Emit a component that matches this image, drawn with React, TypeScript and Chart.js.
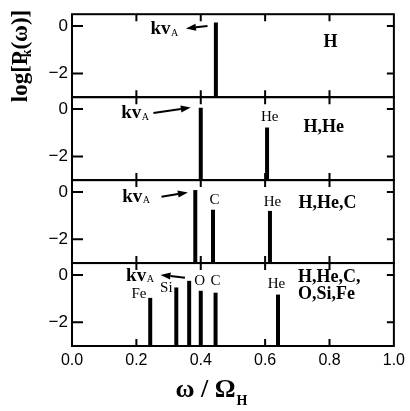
import { useEffect, useRef } from 'react';
import { Chart, registerables } from 'chart.js';

Chart.register(...registerables);

// ---- data ----
const xTicks = [0, 0.2, 0.4, 0.6, 0.8, 1.0];
const yTicks = [0, -2];
const yMin = -3;
const yMax = 0.5;

const panel1Freq = [0.447];
const panel1Power = [0.15];
const panel2Freq = [0.4, 0.606];
const panel2Power = [0.05, -0.78];
const panel3Freq = [0.383, 0.438, 0.615];
const panel3Power = [0.08, -0.75, -0.8];
const panel4Freq = [0.243, 0.324, 0.364, 0.4, 0.446, 0.64];
const panel4Power = [-0.97, -0.53, -0.25, -0.67, -0.75, -0.83];

const panelFreqs = [panel1Freq, panel2Freq, panel3Freq, panel4Freq];
const panelPowers = [panel1Power, panel2Power, panel3Power, panel4Power];
const panelIds = ['y1', 'y2', 'y3', 'y4'];

// panel composition labels: [x, y, lines, align]
const compLabels: [number, number, string[], string][] = [
  [0.803, -0.67, ['H'], 'center'],
  [0.782, -0.79, ['H,He'], 'center'],
  [0.794, -0.5, ['H,He,C'], 'center'],
  [0.702, -0.1, ['H,He,C,', 'O,Si,Fe'], 'left'],
];

// ion line labels per panel: name, x, y
const ionNames = [[], ['He'], ['C', 'He'], ['Fe', 'Si', 'O', 'C', 'He']];
const ionX = [[], [0.614], [0.443, 0.623], [0.208, 0.293, 0.397, 0.446, 0.635]];
const ionY = [[], [-0.33], [-0.33, -0.42], [-0.8, -0.54, -0.25, -0.25, -0.375]];

// kvA annotation per panel: text x, text y, arrow tail (x,y), arrow head (x,y)
const kvTextX = [0.244, 0.153, 0.156, 0.168];
const kvTextY = [-0.125, -0.17, -0.2, -0.04];
const arrowTail: [number, number][] = [[0.421, 0.0], [0.253, -0.17], [0.278, -0.2], [0.351, -0.12]];
const arrowHead: [number, number][] = [[0.354, -0.1], [0.369, 0.06], [0.36, -0.02], [0.275, 0.0]];

const SERIF = '"Liberation Serif", "Times New Roman", serif';
const SANS = '"Liberation Sans", Arial, sans-serif';

const overlay = {
  id: 'overlay',
  afterDraw(chart: any) {
    const ctx: CanvasRenderingContext2D = chart.ctx;
    const xs = chart.scales.x;
    const area = chart.chartArea;
    ctx.save();
    ctx.strokeStyle = '#000';
    ctx.fillStyle = '#000';
    panelIds.forEach((id, i) => {
      const ys = chart.scales[id];
      const top = ys.top;
      const bottom = ys.bottom;
      ctx.lineWidth = 2;
      ctx.strokeRect(area.left, top, area.right - area.left, bottom - top);
      ctx.beginPath();
      xTicks.slice(1, -1).forEach((v) => {
        const px = xs.getPixelForValue(v);
        ctx.moveTo(px, top);
        ctx.lineTo(px, top + 7);
        ctx.moveTo(px, bottom);
        ctx.lineTo(px, bottom - 7);
      });
      yTicks.forEach((v) => {
        const py = ys.getPixelForValue(v);
        ctx.moveTo(area.left, py);
        ctx.lineTo(area.left + 11, py);
        ctx.moveTo(area.right, py);
        ctx.lineTo(area.right - 7, py);
      });
      ctx.stroke();

      // composition labels
      const [cx, cy, lines, align] = compLabels[i];
      ctx.font = `bold 18px ${SERIF}`;
      ctx.textAlign = align as CanvasTextAlign;
      ctx.textBaseline = 'middle';
      lines.forEach((t, k) => {
        ctx.fillText(t, xs.getPixelForValue(cx), ys.getPixelForValue(cy) + k * 17);
      });

      // ion labels
      ctx.font = `15px ${SERIF}`;
      ctx.textAlign = 'center';
      ionNames[i].forEach((n, k) => {
        ctx.fillText(n, xs.getPixelForValue(ionX[i][k]), ys.getPixelForValue(ionY[i][k]));
      });

      // kvA
      const kx = xs.getPixelForValue(kvTextX[i]);
      const ky = ys.getPixelForValue(kvTextY[i]);
      ctx.textAlign = 'left';
      ctx.font = `bold 19px ${SERIF}`;
      ctx.fillText('kv', kx, ky);
      const w = ctx.measureText('kv').width;
      ctx.font = `10px ${SERIF}`;
      ctx.fillText('A', kx + w + 0.5, ky + 4);

      // arrow
      const tx = xs.getPixelForValue(arrowTail[i][0]);
      const ty = ys.getPixelForValue(arrowTail[i][1]);
      const hx = xs.getPixelForValue(arrowHead[i][0]);
      const hy = ys.getPixelForValue(arrowHead[i][1]);
      const ang = Math.atan2(hy - ty, hx - tx);
      const hl = 10;
      const bx = hx - hl * Math.cos(ang);
      const by = hy - hl * Math.sin(ang);
      ctx.lineWidth = 2;
      ctx.beginPath();
      ctx.moveTo(tx, ty);
      ctx.lineTo(bx, by);
      ctx.stroke();
      ctx.beginPath();
      ctx.moveTo(hx, hy);
      ctx.lineTo(bx + 3.5 * Math.sin(ang), by - 3.5 * Math.cos(ang));
      ctx.lineTo(bx - 3.5 * Math.sin(ang), by + 3.5 * Math.cos(ang));
      ctx.closePath();
      ctx.fill();
    });

    // y axis title
    ctx.save();
    ctx.translate(21, 56);
    ctx.rotate(-Math.PI / 2);
    ctx.textBaseline = 'middle';
    ctx.textAlign = 'left';
    const big = `bold 23px ${SERIF}`;
    const small = `bold 14px ${SERIF}`;
    ctx.font = big;
    const w1 = ctx.measureText('log[P').width;
    const w3 = ctx.measureText('(ω)]').width;
    ctx.font = small;
    const w2 = ctx.measureText('k').width;
    const total = w1 + w3 + w2 * 0.2;
    const x0 = -total / 2;
    ctx.font = big;
    ctx.fillText('log[P', x0, 0);
    ctx.font = small;
    ctx.fillText('k', x0 + w1 - w2 * 0.8, 6);
    ctx.font = big;
    ctx.fillText('(ω)]', x0 + w1 + w2 * 0.2, 0);
    ctx.restore();

    // x axis title
    ctx.textBaseline = 'alphabetic';
    ctx.textAlign = 'left';
    ctx.font = `bold 26px ${SERIF}`;
    const wa = ctx.measureText('ω / Ω').width;
    ctx.font = `bold 14px ${SERIF}`;
    const wb = ctx.measureText('H').width;
    const sx = 211 - (wa + wb) / 2;
    ctx.font = `bold 26px ${SERIF}`;
    ctx.fillText('ω / Ω', sx, 397);
    ctx.font = `bold 14px ${SERIF}`;
    ctx.fillText('H', sx + wa + 1, 405);
    ctx.restore();
  },
};

export default function App() {
  const ref = useRef<HTMLCanvasElement>(null);
  useEffect(() => {
    if (!ref.current) return;
    const datasets: any[] = [];
    panelFreqs.forEach((freqs, i) => {
      freqs.forEach((f, k) => {
        datasets.push({
          data: [
            { x: f, y: yMin },
            { x: f, y: panelPowers[i][k] },
          ],
          yAxisID: panelIds[i],
          borderColor: '#000',
          borderWidth: 4,
          borderCapStyle: 'butt',
          pointRadius: 0,
          fill: false,
        });
      });
    });
    const yScale = () => ({
      type: 'linear',
      position: 'left',
      stack: 'panels',
      stackWeight: 1,
      min: yMin,
      max: yMax,
      afterFit: (s: any) => {
        s.width = 72;
      },
      afterBuildTicks: (s: any) => {
        s.ticks = yTicks.map((v) => ({ value: v }));
      },
      ticks: {
        padding: 4,
        color: '#000',
        font: { family: SANS, size: 17 },
        callback: (v: any) => (v < 0 ? '\u2212' + Math.abs(v) : String(v)),
      },
      grid: { display: false, drawTicks: false },
      border: { display: false },
    });
    const chart = new Chart(ref.current, {
      type: 'line',
      data: { datasets },
      options: {
        animation: false,
        responsive: false,
        events: [],
        layout: { padding: { top: 10, right: 10.5, left: 0, bottom: 0 } },
        plugins: { legend: { display: false }, tooltip: { enabled: false } },
        scales: {
          x: {
            type: 'linear',
            min: 0,
            max: 1,
            afterFit: (s: any) => {
              s.height = 65;
            },
            afterBuildTicks: (s: any) => {
              s.ticks = xTicks.map((v) => ({ value: v }));
            },
            ticks: {
              padding: 5,
              color: '#000',
              maxRotation: 0,
              font: { family: SANS, size: 16 },
              callback: (v: any) => Number(v).toFixed(1),
            },
            grid: { display: false, drawTicks: false },
            border: { display: false },
          },
          y4: yScale(),
          y3: yScale(),
          y2: yScale(),
          y1: yScale(),
        } as any,
      },
      plugins: [overlay],
    });
    return () => chart.destroy();
  }, []);
  return (
    <div style={{ position: 'absolute', left: 0, top: 0, width: 410, height: 411 }}>
      <canvas ref={ref} width={410} height={411} style={{ display: 'block' }} />
    </div>
  );
}
